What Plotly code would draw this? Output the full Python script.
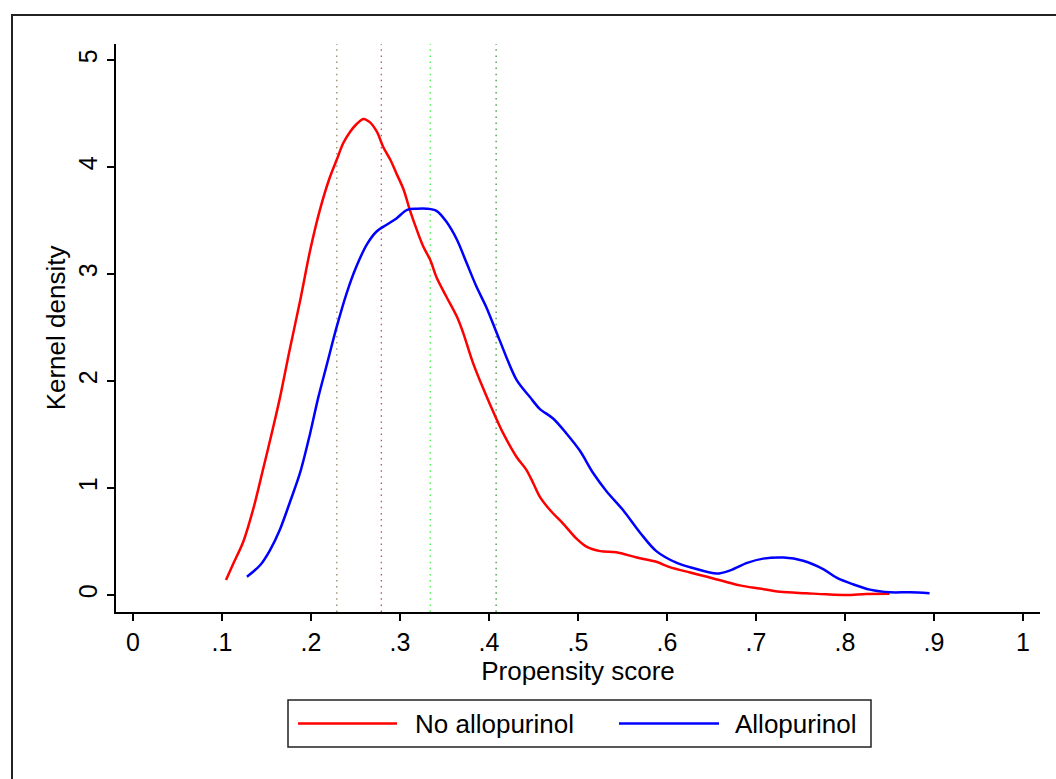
import plotly.graph_objects as go

# ---- data ----
no_allo_x = [0.1045, 0.112, 0.124, 0.135, 0.146, 0.157, 0.165, 0.176, 0.188, 0.199, 0.210, 0.221, 0.229,
             0.236, 0.244, 0.251, 0.259, 0.266, 0.274, 0.281, 0.289, 0.296, 0.304, 0.311, 0.319, 0.326,
             0.334, 0.341, 0.352, 0.364, 0.371, 0.382, 0.394, 0.407, 0.416, 0.431, 0.442, 0.450, 0.457,
             0.469, 0.483, 0.498, 0.510, 0.525, 0.543, 0.566, 0.588, 0.603, 0.626, 0.645, 0.663, 0.682,
             0.704, 0.727, 0.757, 0.779, 0.802, 0.824, 0.850]
no_allo_y = [0.14, 0.28, 0.50, 0.80, 1.17, 1.55, 1.84, 2.29, 2.76, 3.22, 3.60, 3.90, 4.07,
             4.22, 4.33, 4.40, 4.45, 4.42, 4.33, 4.19, 4.07, 3.94, 3.79, 3.60, 3.41, 3.26,
             3.13, 2.97, 2.79, 2.60, 2.45, 2.17, 1.92, 1.67, 1.51, 1.29, 1.17, 1.04, 0.92,
             0.79, 0.67, 0.53, 0.45, 0.41, 0.40, 0.35, 0.31, 0.26, 0.21, 0.17, 0.13, 0.09,
             0.06, 0.03, 0.016, 0.006, 0.0, 0.01, 0.012]

allo_x = [0.128, 0.143, 0.154, 0.165, 0.176, 0.188, 0.199, 0.208, 0.218, 0.229, 0.240, 0.251, 0.263,
          0.274, 0.285, 0.296, 0.308, 0.319, 0.330, 0.341, 0.352, 0.364, 0.375, 0.386, 0.397, 0.412,
          0.431, 0.446, 0.457, 0.472, 0.487, 0.502, 0.517, 0.532, 0.551, 0.570, 0.588, 0.611, 0.630,
          0.656, 0.671, 0.690, 0.708, 0.731, 0.753, 0.776, 0.791, 0.809, 0.828, 0.851, 0.873, 0.895]
allo_y = [0.17, 0.28, 0.42, 0.61, 0.86, 1.15, 1.51, 1.84, 2.16, 2.51, 2.82, 3.07, 3.28,
          3.40, 3.46, 3.52, 3.60, 3.61, 3.61, 3.59, 3.49, 3.32, 3.10, 2.88, 2.69, 2.38,
          2.01, 1.85, 1.74, 1.65, 1.51, 1.35, 1.14, 0.97, 0.79, 0.58, 0.41, 0.30, 0.25,
          0.20, 0.23, 0.30, 0.34, 0.35, 0.32, 0.24, 0.16, 0.10, 0.05, 0.025, 0.025, 0.016]

ref_lines_x = [0.229, 0.279, 0.334, 0.408]
ref_lines_colors = ["#8c7b58", "#cc3366", "#33ee33", "#2e8b2e"]

x_tick_vals = [0, 0.1, 0.2, 0.3, 0.4, 0.5, 0.6, 0.7, 0.8, 0.9, 1.0]
x_tick_text = ["0", ".1", ".2", ".3", ".4", ".5", ".6", ".7", ".8", ".9", "1"]
y_tick_vals = [0, 1, 2, 3, 4, 5]
y_tick_text = ["0", "1", "2", "3", "4", "5"]

series_names = ["No allopurinol", "Allopurinol"]
series_colors = ["#ff0000", "#0000ff"]

FONT = "Arial, Liberation Sans, sans-serif"
W, H = 1056, 779
ML, MR, MT, MB = 116, 16, 44, 167
PW, PH = W - ML - MR, H - MT - MB


def px(xp):
    return (xp - ML) / PW


def py(yp):
    return (H - MB - yp) / PH


fig = go.Figure()
for xs, ys, name, col in [(no_allo_x, no_allo_y, series_names[0], series_colors[0]),
                          (allo_x, allo_y, series_names[1], series_colors[1])]:
    fig.add_trace(go.Scatter(x=xs, y=ys, mode="lines", name=name,
                             line=dict(color=col, width=2.5, shape="spline", smoothing=0.9),
                             showlegend=False))

shapes = []
for xv, col in zip(ref_lines_x, ref_lines_colors):
    shapes.append(dict(type="line", xref="x", yref="paper", x0=xv, x1=xv, y0=0, y1=1,
                       line=dict(color=col, width=1.2, dash="1.5px,4.6px"), layer="below"))

# outer border (graph region frame)
shapes.append(dict(type="rect", xref="paper", yref="paper",
                   x0=px(12), x1=px(1070), y0=py(800), y1=py(15),
                   line=dict(color="#222222", width=2), fillcolor="rgba(0,0,0,0)"))

# legend box
shapes.append(dict(type="rect", xref="paper", yref="paper",
                   x0=px(288), x1=px(871), y0=py(747), y1=py(700),
                   line=dict(color="#222222", width=1.5), fillcolor="white"))
ly = py(723.5)
shapes.append(dict(type="line", xref="paper", yref="paper", x0=px(298), x1=px(397), y0=ly, y1=ly,
                   line=dict(color=series_colors[0], width=2.5)))
shapes.append(dict(type="line", xref="paper", yref="paper", x0=px(619), x1=px(719), y0=ly, y1=ly,
                   line=dict(color=series_colors[1], width=2.5)))

annotations = [
    dict(xref="paper", yref="paper", x=px(413), y=ly, text=series_names[0], showarrow=False,
         xanchor="left", yanchor="middle", font=dict(family=FONT, size=26, color="black")),
    dict(xref="paper", yref="paper", x=px(733), y=ly, text=series_names[1], showarrow=False,
         xanchor="left", yanchor="middle", font=dict(family=FONT, size=26, color="black")),
]

fig.update_layout(
    width=W, height=H,
    margin=dict(l=ML, r=MR, t=MT, b=MB, pad=0),
    paper_bgcolor="white", plot_bgcolor="white",
    font=dict(family=FONT, size=24, color="black"),
    shapes=shapes, annotations=annotations,
    showlegend=False,
    xaxis=dict(range=[-0.0191, 1.0191], tickvals=x_tick_vals, ticktext=x_tick_text,
               showgrid=False, zeroline=False, showline=True, linecolor="black", linewidth=1.5,
               ticks="outside", ticklen=7, tickwidth=1.5, tickcolor="black",
               tickfont=dict(family=FONT, size=25, color="black"),
               title=dict(text="Propensity score", font=dict(family=FONT, size=26, color="black"),
                          standoff=4)),
    yaxis=dict(range=[-0.159, 5.15], tickvals=y_tick_vals, ticktext=y_tick_text, tickangle=-90,
               showgrid=False, zeroline=False, showline=True, linecolor="black", linewidth=1.5,
               ticks="outside", ticklen=7, tickwidth=1.5, tickcolor="black",
               tickfont=dict(family=FONT, size=25, color="black"),
               title=dict(text="Kernel density", font=dict(family=FONT, size=26, color="black"),
                          standoff=1)),
)

fig.write_html("out.html")
